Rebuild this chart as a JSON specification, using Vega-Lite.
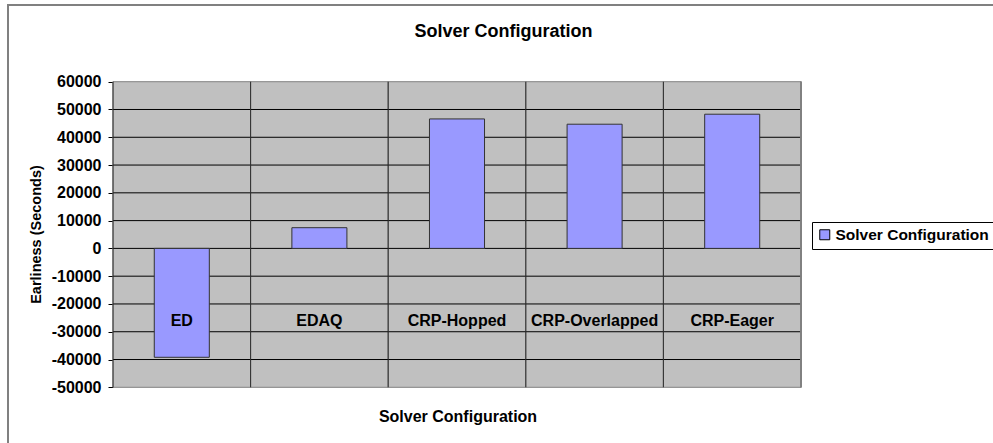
{
  "$schema": "https://vega.github.io/schema/vega-lite/v6.json",
  "autosize": {"type": "none"},
  "padding": {"left": 8, "top": 5, "right": -6, "bottom": -6},
  "width": 991,
  "height": 444,
  "background": "white",
  "title": {"text": "Solver Configuration", "font": "Liberation Sans", "fontSize": 18, "fontWeight": "bold", "color": "black", "anchor": "middle", "offset": -45, "baseline": "middle"},
  "datasets": {
    "solver": [
      {"Config": "ED", "Earliness": -39200},
      {"Config": "EDAQ", "Earliness": 7450},
      {"Config": "CRP-Hopped", "Earliness": 46600},
      {"Config": "CRP-Overlapped", "Earliness": 44700},
      {"Config": "CRP-Eager", "Earliness": 48300}
    ],
    "gridlines": [
      {"v": -40000}, {"v": -30000}, {"v": -20000}, {"v": -10000}, {"v": 0},
      {"v": 10000}, {"v": 20000}, {"v": 30000}, {"v": 40000}, {"v": 50000}
    ]
  },
  "layer": [
    {
      "data": {"name": "solver"},
      "mark": {"type": "rect", "fill": "#C0C0C0", "stroke": "#808080", "strokeWidth": 1},
      "encoding": {
        "x": {"field": "Config", "type": "nominal", "title": "Solver Configuration"},
        "y": {"datum": -50000, "type": "quantitative", "title": "Earliness (Seconds)"},
        "y2": {"datum": 60000}
      }
    },
    {
      "data": {"name": "gridlines"},
      "mark": {"type": "rule", "color": "black", "strokeWidth": 1},
      "encoding": {
        "x": {"datum": "ED", "type": "nominal", "bandPosition": 0, "title": "Solver Configuration"},
        "x2": {"datum": "CRP-Eager", "bandPosition": 1},
        "y": {"field": "v", "type": "quantitative", "title": "Earliness (Seconds)"}
      }
    },
    {
      "data": {"name": "solver"},
      "mark": {"type": "rule", "color": "#303030", "strokeWidth": 1},
      "encoding": {
        "x": {"field": "Config", "type": "nominal", "bandPosition": 0, "title": "Solver Configuration"},
        "y": {"datum": -50000, "type": "quantitative", "title": "Earliness (Seconds)"},
        "y2": {"datum": 60000}
      }
    },
    {
      "data": {"name": "solver"},
      "mark": {"type": "bar", "fill": "#9999FF", "stroke": "#333333", "strokeWidth": 1, "width": {"band": 0.4}},
      "encoding": {
        "x": {"field": "Config", "type": "nominal", "title": "Solver Configuration",
              "scale": {"type": "band", "domain": ["ED", "EDAQ", "CRP-Hopped", "CRP-Overlapped", "CRP-Eager"], "range": [105, 793], "paddingInner": 0, "paddingOuter": 0},
              "axis": {"orient": "bottom", "offset": -62, "labels": false, "ticks": false, "domain": false, "grid": false,
                       "titleFont": "Liberation Sans", "titleFontSize": 16, "titleFontWeight": "bold", "titleColor": "black",
                       "titleX": 449.5, "titleY": 29, "titleBaseline": "middle", "titleAlign": "center"}},
        "y": {"field": "Earliness", "type": "quantitative", "title": "Earliness (Seconds)",
              "scale": {"domain": [-72210, 87610], "nice": false, "zero": false},
              "axis": {"values": [-50000, -40000, -30000, -20000, -10000, 0, 10000, 20000, 30000, 40000, 50000, 60000],
                       "offset": -105, "domain": false, "grid": false, "ticks": true, "tickSize": 5, "tickColor": "black", "tickWidth": 1,
                       "labelExpr": "datum.value + ''", "labelFont": "Liberation Sans", "labelFontSize": 16, "labelFontWeight": "bold",
                       "labelColor": "black", "labelPadding": 7, "labelOverlap": false,
                       "titleFont": "Liberation Sans", "titleFontSize": 14.5, "titleFontWeight": "bold", "titleColor": "black",
                       "titleX": -77, "titleY": 229, "titleBaseline": "middle", "titleAlign": "center", "titleAngle": -90}},
        "color": {"datum": "Solver Configuration", "type": "nominal",
                  "scale": {"range": ["#9999FF"]},
                  "legend": {"orient": "none", "legendX": 804, "legendY": 217, "title": null, "strokeColor": "black", "fillColor": "white",
                             "padding": 5, "symbolType": "square", "symbolSize": 100, "symbolStrokeColor": "black", "symbolStrokeWidth": 1,
                             "labelOffset": 3, "labelFont": "Liberation Sans", "labelFontSize": 15.5, "labelFontWeight": "bold", "labelColor": "black", "labelLimit": 300}}
      }
    },
    {
      "data": {"name": "solver"},
      "mark": {"type": "rule", "color": "#808080", "strokeWidth": 1},
      "encoding": {
        "x": {"datum": "CRP-Eager", "type": "nominal", "bandPosition": 1, "title": "Solver Configuration"},
        "y": {"datum": -50000, "type": "quantitative", "title": "Earliness (Seconds)"},
        "y2": {"datum": 60000}
      }
    },
    {
      "data": {"name": "solver"},
      "mark": {"type": "text", "font": "Liberation Sans", "fontSize": 16, "fontWeight": "bold", "color": "black", "baseline": "middle", "align": "center"},
      "encoding": {
        "x": {"field": "Config", "type": "nominal", "title": "Solver Configuration"},
        "y": {"datum": -26000, "type": "quantitative", "title": "Earliness (Seconds)"},
        "text": {"field": "Config", "type": "nominal"}
      }
    }
  ],
  "config": {
    "view": {"stroke": "#808080", "strokeWidth": 2, "fill": "white"},
    "font": "Liberation Sans"
  }
}
